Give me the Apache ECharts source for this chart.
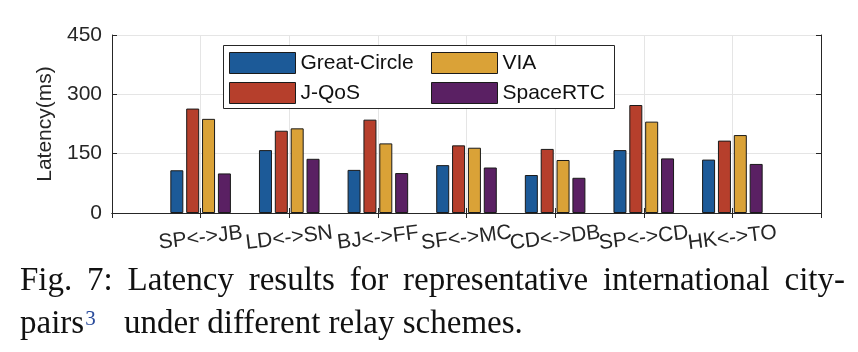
<!DOCTYPE html>
<html>
<head>
<meta charset="utf-8">
<script src="https://cdn.jsdelivr.net/npm/echarts@6/dist/echarts.min.js"></script>
<style>
  html, body { margin: 0; padding: 0; background: #fff; }
  #wrap { position: relative; width: 858px; height: 352px; }
  #chart { position: absolute; left: 0; top: 0; width: 858px; height: 352px; }
  .cap { position: absolute; left: 20px; font-family: 'Liberation Serif', 'Times New Roman', serif; font-size: 33px; line-height: 43px; color: #111; white-space: nowrap; }
  #cap1 { top: 258px; width: 825px; text-align: justify; text-align-last: justify; }
  #cap2 { top: 301px; }
  #cap2 sup { color: #2b4c9c; font-size: 21px; vertical-align: 8px; line-height: 0; margin-left: 1px; margin-right: 20px; }
</style>
</head>
<body>
<div id="wrap">
  <div id="chart"></div>
  <div class="cap" id="cap1">Fig. 7: Latency results for representative international city-</div>
  <div class="cap" id="cap2">pairs<sup>3</sup> under different relay schemes.</div>
</div>
<script>
// city pairs on the x axis
const cities = ['SP<->JB', 'LD<->SN', 'BJ<->FF', 'SF<->MC', 'CD<->DB', 'SP<->CD', 'HK<->TO']
// latency (ms) per scheme
const greatCircle = [108, 159, 109, 121, 96, 159, 135]
const jqos = [264, 208, 236, 171, 162, 273, 183]
const via = [238, 214, 176, 165, 134, 231, 197]
const spaceRTC = [100, 137, 101, 115, 89, 138, 124]
const yTicks = [0, 150, 300, 450]

const colors = ['#1c5a98', '#b63f2c', '#daa237', '#5a2063']
const names = ['Great-Circle', 'J-QoS', 'VIA', 'SpaceRTC']
const allData = [greatCircle, jqos, via, spaceRTC]

// matlab style xlim [0 8]: pad an empty slot on each side
const xCats = [''].concat(cities, [''])
const pad = (arr) => [null].concat(arr, [null])

const font = 'Liberation Sans, Arial, Helvetica, sans-serif'
const axisColor = '#262626'

const myChart = echarts.init(document.getElementById('chart'))

const series = names.map((n, i) => ({
  name: n,
  type: 'bar',
  barWidth: 13,
  barGap: '22%',
  itemStyle: {
    color: colors[i],
    borderColor: '#1a1a1a',
    borderWidth: 1
  },
  data: pad(allData[i])
}))

const legendCommon = {
  orient: 'vertical',
  padding: 0,
  itemWidth: 66,
  itemHeight: 21,
  itemGap: 8,
  z: 6,
  icon: 'rect',
  itemStyle: { borderColor: '#1a1a1a', borderWidth: 1 },
  textStyle: { fontFamily: font, fontSize: 21, color: '#111' }
}

myChart.setOption({
  animation: false,
  textStyle: { fontFamily: font },
  grid: { left: 112, right: 37, top: 35, bottom: 139 },
  legend: [
    Object.assign({ left: 229, top: 52, data: ['Great-Circle', 'J-QoS'] }, legendCommon),
    Object.assign({ left: 431, top: 52, data: ['VIA', 'SpaceRTC'] }, legendCommon)
  ],
  graphic: [{
    type: 'rect',
    z: 5,
    shape: { x: 223.5, y: 45.5, width: 391, height: 63 },
    style: { fill: '#fff', stroke: '#262626', lineWidth: 1 }
  }],
  xAxis: [
    {
      type: 'category',
      data: xCats,
      boundaryGap: false,
      axisLine: { lineStyle: { color: axisColor } },
      axisTick: { inside: true, length: 5, lineStyle: { color: axisColor } },
      axisLabel: {
        interval: 0,
        rotate: 7,
        align: 'center',
        verticalAlign: 'middle',
        margin: 25,
        fontSize: 21,
        color: axisColor
      },
      splitLine: { show: true, lineStyle: { color: '#e5e5e5' } }
    },
    {
      type: 'category',
      data: xCats,
      position: 'top',
      boundaryGap: false,
      axisLine: { lineStyle: { color: axisColor } },
      axisTick: { inside: true, length: 5, lineStyle: { color: axisColor } },
      axisLabel: { show: false },
      splitLine: { show: false }
    }
  ],
  yAxis: [
    {
      type: 'value',
      min: yTicks[0],
      max: yTicks[yTicks.length - 1],
      interval: 150,
      name: 'Latency(ms)',
      nameLocation: 'middle',
      nameGap: 50,
      nameTextStyle: { fontSize: 21, color: axisColor },
      axisLine: { show: true, lineStyle: { color: axisColor } },
      axisTick: { show: true, inside: true, length: 5, lineStyle: { color: axisColor } },
      axisLabel: { fontSize: 21, color: axisColor, margin: 10 },
      splitLine: { show: true, lineStyle: { color: '#e5e5e5' } }
    },
    {
      type: 'value',
      min: yTicks[0],
      max: yTicks[yTicks.length - 1],
      interval: 150,
      position: 'right',
      axisLine: { show: true, lineStyle: { color: axisColor } },
      axisTick: { show: true, inside: true, length: 5, lineStyle: { color: axisColor } },
      axisLabel: { show: false },
      splitLine: { show: false }
    }
  ],
  series: series
})
</script>
</body>
</html>
